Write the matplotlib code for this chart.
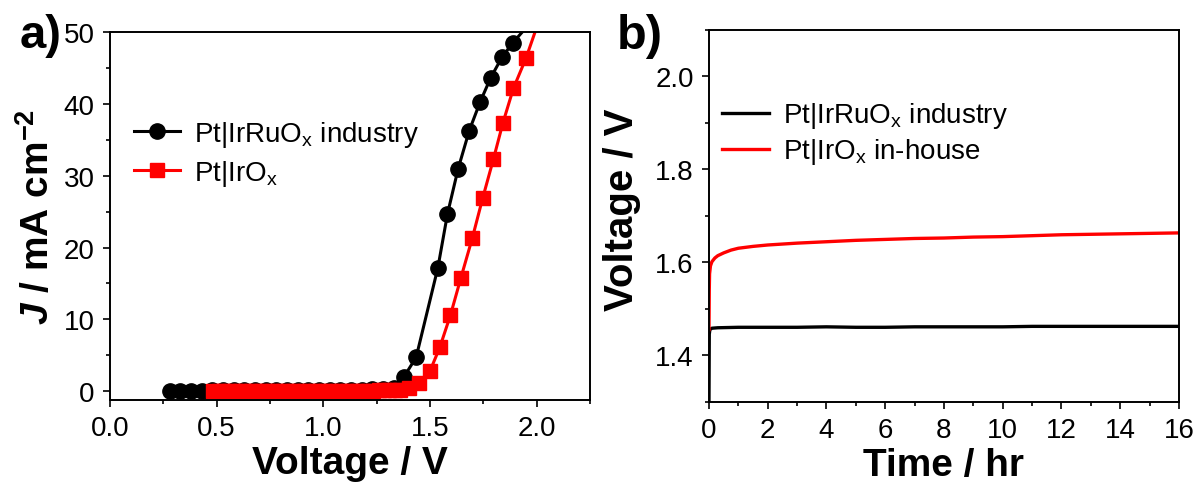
import matplotlib
matplotlib.use("Agg")
import matplotlib.pyplot as plt
from matplotlib.ticker import MultipleLocator

plt.rcParams['font.family'] = ['Liberation Sans', 'DejaVu Sans']
plt.rcParams['mathtext.fontset'] = 'custom'
plt.rcParams['mathtext.rm'] = 'Liberation Sans'
plt.rcParams['mathtext.it'] = 'Liberation Sans:italic'
plt.rcParams['mathtext.bf'] = 'Liberation Sans:bold'
plt.rcParams['mathtext.bfit'] = 'Liberation Sans:italic:bold'

# panel a: polarisation curves
v_irruo = [0.28, 0.33, 0.38, 0.43, 0.48, 0.53, 0.58, 0.63, 0.68, 0.73, 0.78,
           0.83, 0.88, 0.93, 0.98, 1.03, 1.08, 1.13, 1.18, 1.23, 1.28, 1.33,
           1.376, 1.435, 1.537, 1.582, 1.632, 1.684, 1.735, 1.785, 1.837,
           1.887, 1.99]
j_irruo = [0.0, 0.0, 0.0, 0.0, 0.1, 0.1, 0.1, 0.1, 0.1, 0.1, 0.15,
           0.15, 0.15, 0.15, 0.15, 0.2, 0.2, 0.2, 0.2, 0.25, 0.3, 0.5,
           1.9, 4.7, 17.2, 24.7, 31.0, 36.3, 40.3, 43.7, 46.5,
           48.5, 52.0]
v_irox = [0.485, 0.51, 0.535, 0.56, 0.585, 0.61, 0.635, 0.66, 0.685, 0.71,
          0.735, 0.76, 0.785, 0.81, 0.835, 0.86, 0.885, 0.91, 0.935, 0.96,
          0.985, 1.01, 1.035, 1.06, 1.085, 1.11, 1.135, 1.16, 1.185, 1.21,
          1.235, 1.26, 1.285, 1.31, 1.335, 1.36,
          1.40, 1.45, 1.50, 1.546, 1.596, 1.645, 1.699, 1.747, 1.797, 1.842,
          1.891, 1.95, 2.05]
j_irox = [0.0, 0.0, 0.0, 0.0, 0.0, 0.0, 0.0, 0.0, 0.0, 0.0,
          0.0, 0.0, 0.0, 0.0, 0.0, 0.0, 0.0, 0.0, 0.0, 0.0,
          0.0, 0.0, 0.0, 0.0, 0.0, 0.0, 0.0, 0.0, 0.05, 0.05,
          0.05, 0.1, 0.1, 0.1, 0.15, 0.2,
          0.4, 1.07, 2.8, 6.1, 10.6, 15.8, 21.4, 26.9, 32.3, 37.4,
          42.2, 46.4, 55.0]

# panel b: stability at constant current
t_irruo = [0, 0.01, 0.03, 0.1, 0.3, 1, 2, 3, 4, 5, 6, 7, 8, 9, 10, 11, 12,
           13, 14, 15, 16]
u_irruo = [1.30, 1.445, 1.455, 1.458, 1.459, 1.460, 1.460, 1.460, 1.461,
           1.460, 1.460, 1.461, 1.461, 1.461, 1.461, 1.462, 1.462, 1.462,
           1.462, 1.462, 1.462]
t_irox = [0, 0.01, 0.02, 0.05, 0.1, 0.2, 0.3, 0.5, 0.75, 1, 1.5, 2, 3, 4, 5,
          6, 7, 8, 9, 10, 11, 12, 13, 14, 15, 16]
u_irox = [1.455, 1.54, 1.575, 1.592, 1.601, 1.609, 1.614, 1.620, 1.626,
          1.630, 1.634, 1.637, 1.641, 1.644, 1.647, 1.649, 1.651, 1.652,
          1.654, 1.655, 1.657, 1.659, 1.660, 1.661, 1.662, 1.663]

lab_irruo = r'Pt|IrRuO$_\mathregular{x}$ industry'
lab_irox = r'Pt|IrO$_\mathregular{x}$'
lab_irox_b = r'Pt|IrO$_\mathregular{x}$ in-house'

fig = plt.figure(figsize=(11.98, 4.85), dpi=100)
ax1 = fig.add_axes([0.0918, 0.1738, 0.4007, 0.7575])
ax2 = fig.add_axes([0.5918, 0.1697, 0.3923, 0.767])

ax1.plot(v_irruo, j_irruo, '-o', color='black', lw=2.2, ms=11, label=lab_irruo)
ax1.plot(v_irox, j_irox, '-s', color='red', lw=2.2, ms=10.5, label=lab_irox)
ax1.set_xlim(0, 2.25)
ax1.set_ylim(-1.2, 50)
ax1.xaxis.set_major_locator(MultipleLocator(0.5))
ax1.xaxis.set_minor_locator(MultipleLocator(0.25))
ax1.yaxis.set_major_locator(MultipleLocator(10))
ax1.yaxis.set_minor_locator(MultipleLocator(5))
ax1.set_xlabel('Voltage / V', fontsize=28, fontweight='bold', labelpad=3)
ax1.set_ylabel(r'$\mathbfit{J}$ / mA cm$^{\mathbf{-2}}$', fontsize=28,
               fontweight='bold', labelpad=5)
ax1.legend(loc='upper left', bbox_to_anchor=(0.05, 0.765), frameon=False,
           fontsize=20, numpoints=1, handlelength=1.65, handletextpad=0.5,
           labelspacing=0.32, borderpad=0, borderaxespad=0)

ax2.plot(t_irruo, u_irruo, color='black', lw=2.4, label=lab_irruo)
ax2.plot(t_irox, u_irox, color='red', lw=2.4, label=lab_irox_b)
ax2.set_xlim(0, 16)
ax2.set_ylim(1.3, 2.1)
ax2.xaxis.set_major_locator(MultipleLocator(2))
ax2.xaxis.set_minor_locator(MultipleLocator(1))
ax2.yaxis.set_major_locator(MultipleLocator(0.2))
ax2.yaxis.set_minor_locator(MultipleLocator(0.1))
ax2.set_xlabel('Time / hr', fontsize=28, fontweight='bold', labelpad=3)
ax2.set_ylabel('Voltage / V', fontsize=29, fontweight='bold', labelpad=2)
ax2.yaxis.set_label_coords(-0.145, 0.52)
ax2.legend(loc='upper left', bbox_to_anchor=(0.027, 0.81), frameon=False,
           fontsize=20, handlelength=1.7, handletextpad=0.5,
           labelspacing=0.22, borderpad=0, borderaxespad=0)

for ax in (ax1, ax2):
    for s in ax.spines.values():
        s.set_linewidth(1.4)
    ax.tick_params(which='both', direction='out', top=False, right=False,
                   labelsize=20, width=1.2, pad=6)
    ax.tick_params(which='major', length=5)
    ax.tick_params(which='minor', length=3)

fig.text(0.016, 0.901, 'a)', fontsize=34, fontweight='bold', va='baseline')
fig.text(0.515, 0.899, 'b)', fontsize=35, fontweight='bold', va='baseline')

fig.savefig('out.png', dpi=100)
